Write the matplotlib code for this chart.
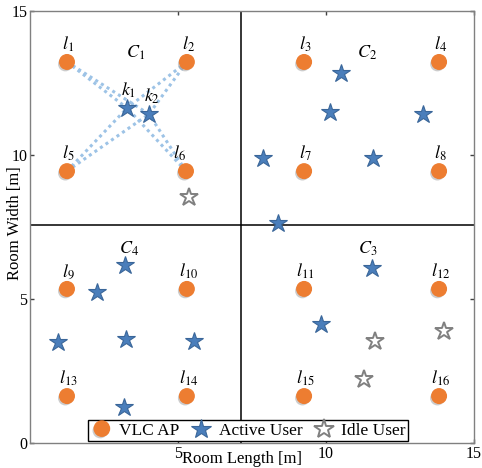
import matplotlib
matplotlib.use("Agg")
import matplotlib.pyplot as plt
import matplotlib.patheffects as pe
from matplotlib.lines import Line2D

plt.rcParams["mathtext.fontset"] = "stix"

# ---------------- data ----------------
ap_labels = [r"$l_{1}$", r"$l_{2}$", r"$l_{3}$", r"$l_{4}$",
             r"$l_{5}$", r"$l_{6}$", r"$l_{7}$", r"$l_{8}$",
             r"$l_{9}$", r"$l_{10}$", r"$l_{11}$", r"$l_{12}$",
             r"$l_{13}$", r"$l_{14}$", r"$l_{15}$", r"$l_{16}$"]
ap_x = [1.25, 5.30, 9.26, 13.82,
        1.25, 5.27, 9.26, 13.82,
        1.25, 5.30, 9.26, 13.82,
        1.25, 5.30, 9.26, 13.82]
ap_y = [13.23, 13.23, 13.23, 13.23,
        9.44, 9.44, 9.44, 9.44,
        5.35, 5.35, 5.35, 5.35,
        1.63, 1.63, 1.63, 1.63]

active_x = [3.28, 4.02, 10.50, 10.14, 13.28, 7.87, 11.59, 8.38,
            3.21, 2.26, 0.95, 3.24, 5.54, 3.18, 11.55, 9.83]
active_y = [11.63, 11.42, 12.85, 11.49, 11.42, 9.90, 9.90, 7.64,
            6.18, 5.24, 3.51, 3.61, 3.54, 1.25, 6.08, 4.13]
active_names = [r"$k_{1}$", r"$k_{2}$"]

idle_x = [5.37, 11.66, 13.99, 11.28]
idle_y = [8.54, 3.54, 3.89, 2.22]

cell_labels = [r"$C_{1}$", r"$C_{2}$", r"$C_{3}$", r"$C_{4}$"]
cell_x = [3.55, 11.38, 11.42, 3.35]
cell_y = [13.55, 13.55, 6.75, 6.75]

# links: AP index -> active user index
link_ap = [0, 0, 1, 1, 4, 4, 5, 5]
link_user = [0, 1, 0, 1, 0, 1, 0, 1]

divider_x = 7.14
divider_y = 7.57

legend_labels = ["VLC AP", "Active User", "Idle User"]
x_ticks = [5, 10, 15]
y_ticks = [0, 5, 10, 15]

# ---------------- style ----------------
orange = "#ed7d31"
blue = "#4a7ebb"
blue_edge = "#3a6699"
link_color = "#9dc3e6"
gray = "#808080"
serif = ["Liberation Serif", "DejaVu Serif"]

fig = plt.figure(figsize=(4.82, 4.68), dpi=100)
ax = fig.add_axes([0.0622, 0.0534, 0.9212, 0.9231])
ax.set_xlim(0, 15)
ax.set_ylim(0, 15)

# dividers
ax.axvline(divider_x, color="black", lw=1.1, zorder=1)
ax.axhline(divider_y, color="black", lw=1.1, zorder=1)

# links
for a, u in zip(link_ap, link_user):
    ax.plot([ap_x[a], active_x[u]], [ap_y[a], active_y[u]],
            ls=(0, (1, 1.2)), color=link_color, lw=2.2, zorder=2)

shadow = [pe.SimplePatchShadow(offset=(-1.2, -1.5), shadow_rgbFace="#9a9a9a", alpha=0.5),
          pe.Normal()]

ax.plot(ap_x, ap_y, ls="none", marker="o", ms=10.5, color=orange,
        mec=orange, zorder=4, path_effects=shadow)
ax.plot(active_x, active_y, ls="none", marker="*", ms=13.5, color=blue,
        mec=blue_edge, mew=0.8, zorder=4)
ax.plot(idle_x, idle_y, ls="none", marker="*", ms=13.5, mfc="white",
        mec=gray, mew=1.4, zorder=4)

# AP labels
for lab, x, y in zip(ap_labels, ap_x, ap_y):
    dx = -5 if lab == r"$l_{6}$" else 1
    ax.annotate(lab, (x, y), xytext=(dx, 6), textcoords="offset points",
                ha="center", va="bottom", fontsize=13, zorder=5)
# active user names
for lab, x, y, dx in zip(active_names, active_x[:2], active_y[:2], [1, 2]):
    ax.annotate(lab, (x, y), xytext=(dx, 6), textcoords="offset points",
                ha="center", va="bottom", fontsize=13, zorder=5)
# cell labels
for lab, x, y in zip(cell_labels, cell_x, cell_y):
    ax.text(x, y, lab, ha="center", va="center", fontsize=13, zorder=5)

# axes styling
for s in ax.spines.values():
    s.set_color(gray)
    s.set_linewidth(1.0)
ax.set_xticks(x_ticks)
ax.set_yticks(y_ticks)
ax.set_xticklabels([str(t) for t in x_ticks], family=serif, fontsize=11.5)
ax.set_yticklabels([str(t) for t in y_ticks], family=serif, fontsize=11.5)
ax.tick_params(direction="in", length=3, width=1, color="#404040",
               top=True, right=True, pad=2)
ax.set_xlabel("Room Length [m]", family=serif, fontsize=12)
ax.set_ylabel("Room Width [m]", family=serif, fontsize=12)
ax.xaxis.set_label_coords(0.477, -0.037)
ax.yaxis.set_label_coords(-0.034, 0.51)
ax.xaxis.label.set_va("center")
ax.yaxis.label.set_va("center")

# legend
handles = [
    Line2D([], [], ls="none", marker="o", ms=11, color=orange, mec=orange,
           path_effects=shadow),
    Line2D([], [], ls="none", marker="*", ms=15, color=blue, mec=blue_edge, mew=0.8),
    Line2D([], [], ls="none", marker="*", ms=15, mfc="white", mec=gray, mew=1.4),
]
leg = ax.legend(handles, legend_labels, ncol=3, loc="lower left",
                bbox_to_anchor=(0.1306, 0.004), borderaxespad=0.0,
                frameon=True, fancybox=False,
                edgecolor="black", framealpha=1, borderpad=0.15,
                handletextpad=0.35, columnspacing=0.6, handlelength=1.3,
                prop={"family": serif, "size": 12.5})
leg.get_frame().set_linewidth(1.0)
leg.set_zorder(6)

fig.savefig("out.png", dpi=100)
